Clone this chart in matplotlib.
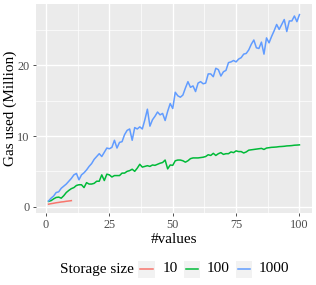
import matplotlib
matplotlib.use("Agg")
import matplotlib.pyplot as plt
from matplotlib.lines import Line2D
from matplotlib.patches import Rectangle
import numpy as np

# ---- data ----
x_10 = list(range(1, 11))
gas_10 = [0.35, 0.42, 0.48, 0.55, 0.6, 0.66, 0.7, 0.76, 0.8, 0.85]

x_100 = list(range(1, 101))
gas_100 = [0.75, 0.85, 1.1, 1.3, 1.35, 1.2, 1.55, 2.0, 2.3, 2.55,
           2.7, 3.0, 3.1, 3.1, 2.7, 3.4, 3.2, 3.2, 3.3, 3.6,
           3.6, 4.5, 3.7, 4.6, 4.5, 4.2, 4.4, 4.4, 4.4, 4.75,
           4.75, 5.0, 5.1, 5.3, 5.0, 5.45, 6.0, 5.6, 5.7, 5.8,
           5.7, 5.9, 5.85, 6.0, 6.15, 6.25, 6.6, 5.35, 5.9, 5.85,
           6.5, 6.6, 6.6, 6.5, 6.3, 6.5, 6.8, 6.9, 6.9, 6.9,
           6.95, 7.0, 7.1, 7.35, 7.25, 7.55, 7.25, 7.5, 7.65, 7.4,
           7.5, 7.5, 7.75, 7.65, 7.9, 7.8, 7.8, 7.6, 7.75, 8.0,
           8.05, 8.1, 8.15, 8.2, 8.25, 8.1, 8.3, 8.35, 8.4, 8.42,
           8.45, 8.5, 8.52, 8.55, 8.6, 8.62, 8.65, 8.7, 8.72, 8.75]

x_1000 = list(range(1, 101))
gas_1000 = [0.8, 1.2, 1.5, 2.0, 2.1, 2.6, 2.9, 3.2, 3.6, 4.0,
            4.5, 4.7, 3.8, 4.5, 4.8, 5.2, 5.7, 6.1, 6.7, 7.1,
            7.5, 7.1, 7.7, 8.3, 8.2, 8.4, 9.4, 8.3, 9.1, 9.2,
            10.2, 10.8, 11.0, 9.4, 11.2, 11.0, 11.3, 11.0, 12.3, 13.8,
            11.4, 12.3, 12.8, 13.4, 13.0, 13.2, 12.2, 13.5, 14.6, 13.9,
            16.2, 15.7, 15.5, 15.8, 16.8, 17.7, 16.9, 17.1, 16.3, 17.5,
            17.7, 17.4, 17.5, 18.8, 18.8, 18.4, 19.6, 19.4, 18.5, 19.1,
            19.3, 20.4, 20.5, 20.7, 20.5, 20.9, 21.1, 21.6, 21.7, 22.2,
            23.0, 23.6, 22.5, 22.4, 23.3, 21.6, 23.9, 23.2, 24.1, 24.9,
            25.8, 25.1, 25.8, 26.5, 24.8, 26.3, 26.3, 27.0, 26.2, 27.2]

series_labels = ["10", "100", "1000"]
series_colors = ["#F8766D", "#00BA38", "#619CFF"]
legend_title = "Storage size"
x_label = "#values"
y_label = "Gas used (Million)"
x_ticks = [0, 25, 50, 75, 100]
y_ticks = [0, 10, 20]

plt.rcParams['font.family'] = ['Liberation Serif', 'DejaVu Serif']

W, H = 316, 285
fig = plt.figure(figsize=(W / 100, H / 100), dpi=100)
ax = fig.add_axes([36 / W, 1 - 213 / H, (312 - 36) / W, (213 - 4) / H])
ax.set_facecolor("#EBEBEB")
for s in ax.spines.values():
    s.set_visible(False)

xs = [x_10, x_100, x_1000]
ys = [gas_10, gas_100, gas_1000]
for xv, yv, c in zip(xs, ys, series_colors):
    ax.plot(xv, yv, color=c, lw=1.1, solid_joinstyle='round', zorder=3)

ax.set_xlim(-3.95, 104.95)
ax.set_ylim(-0.9, 28.7)
ax.set_xticks(x_ticks)
ax.set_yticks(y_ticks)
ax.set_xticks([12.5, 37.5, 62.5, 87.5], minor=True)
ax.set_yticks([5, 15, 25], minor=True)
ax.grid(which='major', color='white', lw=1.0, zorder=0)
ax.grid(which='minor', color='white', lw=0.5, zorder=0)
ax.set_axisbelow(True)
ax.tick_params(which='major', length=2.5, width=0.6, color='#333333',
               labelcolor='#4D4D4D', labelsize=8.8, pad=2)
ax.tick_params(which='minor', length=0)
ax.set_xlabel(x_label, fontsize=11, labelpad=1)
ax.set_ylabel(y_label, fontsize=11, labelpad=0)

# legend (manual, ggplot style)
ly = 1 - 269 / H
fig.text(60 / W, ly, legend_title, fontsize=11, ha='left', va='center')
keys = [(138, 155), (184, 200), (236, 252)]
lab_x = [163, 207, 259]
for (k0, k1), lx, lab, c in zip(keys, lab_x, series_labels, series_colors):
    fig.patches.append(Rectangle((k0 / W, ly - 8.5 / H), (k1 - k0) / W, 17 / H,
                                 transform=fig.transFigure, facecolor="#F2F2F2", edgecolor='none'))
    fig.lines.append(Line2D([(k0 + 2) / W, (k1 - 2) / W], [ly, ly], transform=fig.transFigure,
                            color=c, lw=1.1))
    fig.text(lx / W, ly, lab, fontsize=11, ha='left', va='center')

fig.savefig("out.png", dpi=100, facecolor='white')
